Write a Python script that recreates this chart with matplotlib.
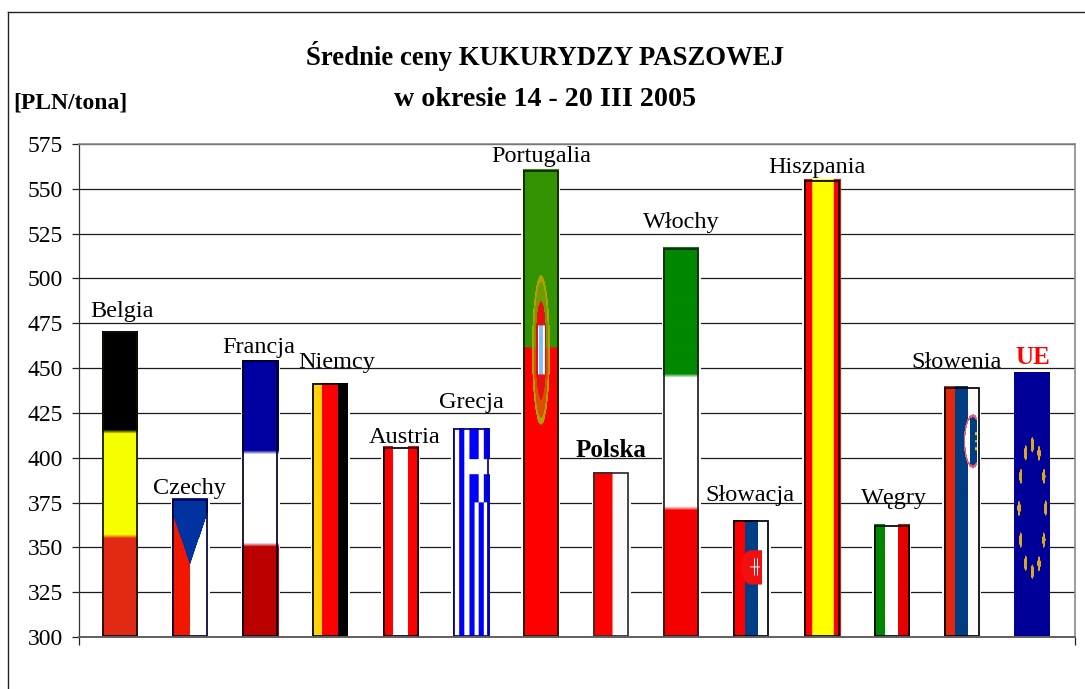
import numpy as np
import matplotlib
matplotlib.use("Agg")
import matplotlib.pyplot as plt
from matplotlib.lines import Line2D
from matplotlib.colors import to_rgb

# ---- data ----
countries = ["Belgia", "Czechy", "Francja", "Niemcy", "Austria", "Grecja", "Portugalia",
             "Polska", "Włochy", "Słowacja", "Hiszpania", "Węgry", "Słowenia", "UE"]
prices = [470.5, 377.0, 454.5, 441.5, 406.0, 416.5, 560.5,
          392.0, 517.0, 365.0, 555.0, 362.5, 439.5, 447.5]
y_ticks = list(range(300, 576, 25))
title_lines = ["Średnie ceny KUKURYDZY PASZOWEJ", "w okresie 14 - 20 III 2005"]
unit_label = "[PLN/tona]"

# ---- layout (pixels of the 1085x689 canvas) ----
FW, FH = 1085, 689
AX_L, AX_R, AX_T, AX_B = 79, 1075, 144, 637
FIRST_BAR, BAR_STEP, BAR_W = 120.0, 70.15, 36.0
label_dx_px = [2, -1, -2, 6, 4, 1, 0, 0, 0, -1, -5, 2, -5, 1]
label_dy_px = [14, 5, 7, 15, 4, 20, 8, 15, 20, 19, 7, 21, 19, 9]
border_colors = ["#101000", "#000040", "#000020", "#000000", "#000000", "#000090", "#102000",
                 "#303030", "#202020", "#000000", "#000000", "#000000", "#000000", None]
no_halo = {"Belgia", "UE"}

plt.rcParams["font.family"] = ["Liberation Serif", "DejaVu Serif"]


def c(name):
    return np.array(to_rgb(name))


def canvas(h, color="#ffffff"):
    img = np.ones((h, 36, 3)) * c(color)
    u = (np.arange(36) + 0.5) / 36
    v = (np.arange(h) + 0.5) / h
    U, V = np.meshgrid(u, v)
    return img, U, V


def hstripes(h, cols, cuts):
    img, U, V = canvas(h)
    idx = np.searchsorted(cuts, V)
    for i, col in enumerate(cols):
        img[idx == i] = c(col)
    return img


def vstripes(h, cols, cuts):
    img, U, V = canvas(h)
    idx = np.searchsorted(cuts, U)
    for i, col in enumerate(cols):
        img[idx == i] = c(col)
    return img


def flag(name, px):
    h = int(px)
    soft = max(int(px / 4), 12)
    if name == "Belgia":
        return hstripes(soft, ["#000000", "#f6ff00", "#e22a14"], [0.333, 0.667])
    if name == "Francja":
        return hstripes(soft, ["#0000a0", "#ffffff", "#bb0000"], [0.333, 0.66])
    if name == "Włochy":
        return hstripes(soft, ["#008800", "#ffffff", "#f50000"], [0.335, 0.667])
    if name == "Niemcy":
        return vstripes(h, ["#ffd20a", "#ff0000", "#000000"], [0.286, 0.714])
    if name == "Austria":
        return vstripes(h, ["#ff0000", "#ffffff", "#ff0000"], [0.29, 0.69])
    if name == "Polska":
        return vstripes(h, ["#ff0000", "#fbfbfb"], [0.53])
    if name == "Hiszpania":
        return vstripes(h, ["#ff0000", "#ffff00", "#ff0000"], [0.215, 0.795])
    if name == "Węgry":
        return vstripes(h, ["#008800", "#ffffff", "#e60000"], [0.3, 0.67])
    if name == "Czechy":
        img, U, V = canvas(h)
        img[U < 0.5] = c("#f21800")
        edge = 0.1 + (0.48 - 0.1) * (1 - np.abs(U - 0.5) / 0.5)
        img[V < edge] = c("#0033a0")
        return img
    if name == "Grecja":
        img = vstripes(h, ["#0000ff", "#ffffff", "#0000ff", "#ffffff", "#0000ff", "#ffffff",
                           "#0000ff", "#ffffff", "#0000ff"],
                       [0.03, 0.18, 0.30, 0.44, 0.57, 0.69, 0.82, 0.95])
        _, U, V = canvas(h)
        cant = (V < 0.355) & (U >= 0.44)
        img[cant] = c("#0000ff")
        img[cant & (((U > 0.69) & (U < 0.82)) | ((V > 0.148) & (V < 0.222)))] = c("#ffffff")
        return img
    if name == "Portugalia":
        img, U, V = canvas(h, "#ff0000")
        img[V < 0.382] = c("#339300")
        du, dv = U - 0.5, V - 0.387
        r = (du / 0.25) ** 2 + (dv / 0.16) ** 2
        r2 = (du / 0.20) ** 2 + (dv / 0.145) ** 2
        gold = c("#b0a000")
        inside = r < 1
        img[inside] = 0.5 * img[inside] + 0.5 * gold
        img[inside & (r2 >= 1)] = gold
        r3 = (du / 0.15) ** 2 + (dv / 0.105) ** 2
        img[r3 < 1] = c("#e81010")
        shield = (U > 0.41) & (U < 0.61) & (V > 0.333) & (V < 0.44)
        img[shield] = c("#ffffff")
        img[shield & (np.abs(U - 0.5) < 0.06)] = c("#80c0ff")
        return img
    if name == "Słowacja":
        img = vstripes(h, ["#ff0000", "#003f87", "#ffffff"], [0.33, 0.70])
        _, U, V = canvas(h)
        sh = ((U >= 0.5) & (U < 0.8) & (np.abs(V - 0.405) < 0.145)) | \
             (((U - 0.5) / 0.27) ** 2 + ((V - 0.405) / 0.145) ** 2 < 1)
        img[sh] = c("#f01010")
        cross = (U > 0.48) & (U < 0.76)
        img[cross & (np.abs(V - 0.40) < 0.006)] = c("#ffffff")
        img[((np.abs(U - 0.59) < 0.015) | (np.abs(U - 0.68) < 0.015)) & (np.abs(V - 0.40) < 0.07)] = c("#ffffff")
        return img
    if name == "Słowenia":
        img = vstripes(h, ["#e2280f", "#003c82", "#fdfbff"], [0.30, 0.68])
        _, U, V = canvas(h)
        el = ((U - 0.80) / 0.25) ** 2 + ((V - 0.22) / 0.107) ** 2 < 1
        sh = el & (U < 0.93)
        img[sh] = c("#e0607a")
        el2 = ((U - 0.80) / 0.21) ** 2 + ((V - 0.22) / 0.095) ** 2 < 1
        img[el2 & (U < 0.93)] = c("#ffffff")
        img[el2 & (U >= 0.72) & (U < 0.93)] = c("#003c82")
        img[el2 & (U >= 0.60) & (U < 0.72) & (np.abs(V - 0.22) < 0.05)] = c("#ffffff")
        for dy in (-0.03, 0.0, 0.03):
            img[(np.abs(U - 0.88) < 0.03) & (np.abs(V - 0.22 - dy) < 0.006)] = c("#e0c020")
        return img
    if name == "UE":
        img, U, V = canvas(h, "#000099")
        for k in range(12):
            a = np.pi * 2 * k / 12
            cu, cv = 0.51 + 0.37 * np.sin(a), 0.514 - 0.24 * np.cos(a)
            img[((U - cu) / 0.045) ** 2 + ((V - cv) / 0.028) ** 2 < 1] = c("#d8a820")
        return img
    return canvas(h)[0]


fig = plt.figure(figsize=(FW / 100, FH / 100), dpi=100, facecolor="white")
ax = fig.add_axes([AX_L / FW, 1 - AX_B / FH, (AX_R - AX_L) / FW, (AX_B - AX_T) / FH])

xlim = ((AX_L - FIRST_BAR) / BAR_STEP, (AX_R - FIRST_BAR) / BAR_STEP)
ylim = (y_ticks[0], y_ticks[-1])
px = 1 / BAR_STEP
py = (ylim[1] - ylim[0]) / (AX_B - AX_T)
xs = np.arange(len(countries))
w = BAR_W * px

# grid
ax.set_axisbelow(True)
ax.yaxis.grid(True, color="#1c1c1c", lw=0.9)
ax.xaxis.grid(False)

# white halo behind bars interrupting the grid
for x, val, name in zip(xs, prices, countries):
    if name not in no_halo:
        ax.bar(x, val - ylim[0], bottom=ylim[0], width=w + 3 * px, color="white", zorder=2)

# bars with flag pictures
bars = ax.bar(xs, np.array(prices) - ylim[0], bottom=ylim[0], width=w, color="none", zorder=3)
for rect, name in zip(bars, countries):
    x0, y0, bw, bh = rect.get_x(), rect.get_y(), rect.get_width(), rect.get_height()
    ax.imshow(flag(name, bh / py), extent=(x0, x0 + bw, y0, y0 + bh), origin="upper",
              aspect="auto", interpolation="bilinear", zorder=3)

# dark outline just inside the flag
for x, val, col in zip(xs, prices, border_colors):
    if col is not None:
        ax.bar(x, val - ylim[0] - 1.6 * py, bottom=ylim[0] + 0.8 * py, width=w - 2.0 * px,
               facecolor="none", edgecolor=col, linewidth=1.25, zorder=4)

ax.set_xlim(*xlim)
ax.set_ylim(*ylim)
ax.set_yticks(y_ticks)
ax.set_xticks(xlim)
ax.set_xticklabels([])
ax.tick_params(axis="y", length=5.2, width=0.9, color="#222222", pad=6.5, labelsize=17)
ax.tick_params(axis="x", length=5.8, width=0.9, color="#222222")
for sp in ("top", "right"):
    ax.spines[sp].set_color("#8a8a8a")
    ax.spines[sp].set_linewidth(1.2)
ax.spines["left"].set_color("#333333")
ax.spines["left"].set_linewidth(0.9)
ax.spines["bottom"].set_color("#606060")
ax.spines["bottom"].set_linewidth(1.4)
for s in ax.spines.values():
    s.set_zorder(5)

# labels above bars
for x, val, name, dx, dy in zip(xs, prices, countries, label_dx_px, label_dy_px):
    bold = name in ("Polska", "UE")
    ax.annotate(name, (x, val), xytext=(dx * 0.72, dy * 0.72), textcoords="offset points",
                ha="center", va="baseline", fontsize=17.5 if not bold else 18,
                fontweight="bold" if bold else "normal",
                color="#ff0000" if name == "UE" else "black", zorder=6)


def fx(p):
    return p / FW


def fy(p):
    return 1 - p / FH


fig.text(fx(545), fy(65), title_lines[0], ha="center", va="baseline", fontsize=19.3, fontweight="bold")
fig.text(fx(545), fy(106), title_lines[1], ha="center", va="baseline", fontsize=20.2, fontweight="bold")
fig.text(fx(13), fy(108), unit_label, ha="left", va="baseline", fontsize=17, fontweight="bold")

# outer chart frame
frame = {"color": "#222222", "lw": 1.0}
fig.add_artist(Line2D([fx(7.5), fx(7.5)], [fy(12), 0], **frame))
fig.add_artist(Line2D([fx(7.5), 1], [fy(12), fy(12)], **frame))

fig.savefig("out.png", dpi=100)
